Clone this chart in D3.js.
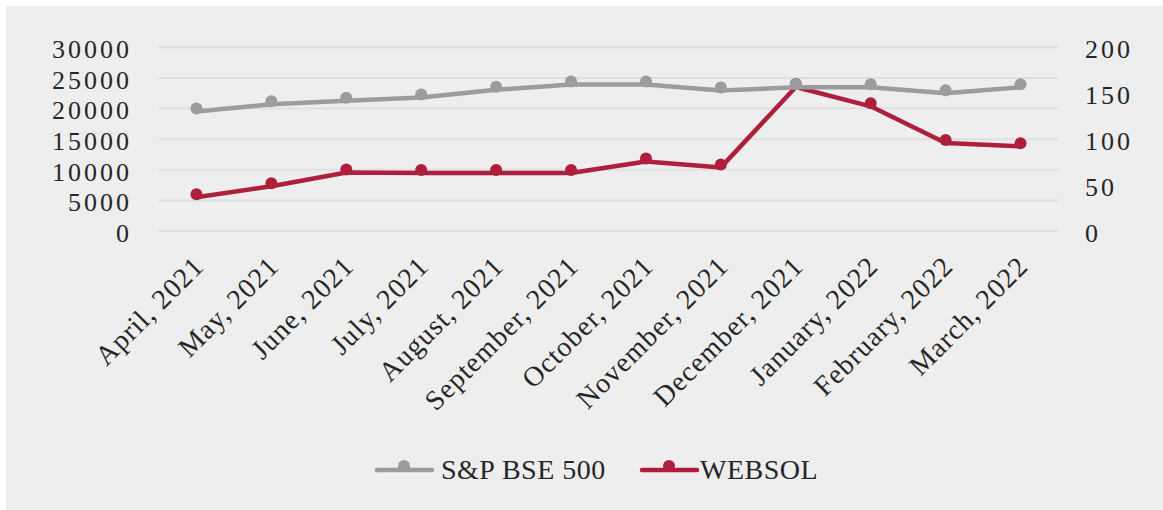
<!DOCTYPE html>
<html>
<head>
<meta charset="utf-8">
<script src="https://cdn.jsdelivr.net/npm/d3@7"></script>
<style>
  body { margin: 0; background: #fff; }
  text { font-family: "Liberation Serif", serif; fill: #262626; }
</style>
</head>
<body>
<script>
// months on the x axis
var months = ["April, 2021", "May, 2021", "June, 2021", "July, 2021", "August, 2021",
              "September, 2021", "October, 2021", "November, 2021", "December, 2021",
              "January, 2022", "February, 2022", "March, 2022"];

// S&P BSE 500 (left axis)
var bse500 = [20000, 21200, 21750, 22300, 23550, 24400, 24400, 23450, 23950, 23950, 23000, 23950];

// WEBSOL (right axis)
var websol = [40, 52, 67, 66.5, 66.5, 66.5, 79, 72.5, 160, 139, 99, 95.5];

var leftTicks = [0, 5000, 10000, 15000, 20000, 25000, 30000];
var rightTicks = [0, 50, 100, 150, 200];

var W = 1163, H = 510;
var svg = d3.select("body").append("svg")
  .attr("width", W)
  .attr("height", H);

// chart background
svg.append("rect")
  .attr("x", 6).attr("y", 6)
  .attr("width", W - 6).attr("height", H - 6)
  .attr("fill", "#eeeeee");

var plotLeft = 159, plotRight = 1058, plotTop = 47.3, plotBottom = 231;

var x = d3.scaleBand().domain(months).range([plotLeft, plotRight]);
var yL = d3.scaleLinear().domain([0, 30000]).range([plotBottom, plotTop]);
var yR = d3.scaleLinear().domain([0, 200]).range([plotBottom, plotTop]);

// gridlines
svg.append("g").selectAll("line")
  .data(leftTicks)
  .enter().append("line")
  .attr("x1", plotLeft).attr("x2", plotRight)
  .attr("y1", function(d) { return yL(d); })
  .attr("y2", function(d) { return yL(d); })
  .attr("stroke", "#dfdfdf")
  .attr("stroke-width", 2);

// left axis labels
var leftAxis = svg.append("g")
  .attr("transform", "translate(" + 132 + ",0)")
  .call(d3.axisLeft(yL).tickValues(leftTicks).tickFormat(d3.format("d")).tickSize(0).tickPadding(0));
leftAxis.select(".domain").remove();
leftAxis.selectAll("text")
  .style("font-size", "26px")
  .style("letter-spacing", "3px")
  .attr("dy", "0.4em");

// right axis labels
var rightAxis = svg.append("g")
  .attr("transform", "translate(" + 1085 + ",0)")
  .call(d3.axisRight(yR).tickValues(rightTicks).tickFormat(d3.format("d")).tickSize(0).tickPadding(0));
rightAxis.select(".domain").remove();
rightAxis.selectAll("text")
  .style("font-size", "26px")
  .style("letter-spacing", "3px")
  .attr("dy", "0.4em");

// x axis labels, rotated
svg.append("g").selectAll("text")
  .data(months)
  .enter().append("text")
  .attr("transform", function(d) {
    return "translate(" + (x(d) + x.bandwidth() / 2 + 9) + ",268) rotate(-45)";
  })
  .attr("text-anchor", "end")
  .style("font-size", "28px")
  .style("letter-spacing", "1px")
  .text(function(d) { return d; });

var series = [
  { name: "WEBSOL", values: websol, scale: yR, color: "#ae1f3c" },
  { name: "S&P BSE 500", values: bse500, scale: yL, color: "#9b9ca0" }
];

series.forEach(function(s) {
  var line = d3.line()
    .x(function(d, i) { return x(months[i]) + x.bandwidth() / 2; })
    .y(function(d) { return s.scale(d); });

  svg.append("path")
    .datum(s.values)
    .attr("d", line)
    .attr("fill", "none")
    .attr("stroke", s.color)
    .attr("stroke-width", 4.5)
    .attr("stroke-linejoin", "round")
    .attr("transform", "translate(0,3)");

  svg.append("g").selectAll("circle")
    .data(s.values)
    .enter().append("circle")
    .attr("cx", function(d, i) { return x(months[i]) + x.bandwidth() / 2; })
    .attr("cy", function(d) { return s.scale(d); })
    .attr("r", 6)
    .attr("fill", s.color);
});

// legend
var legendItems = [
  { name: "S&P BSE 500", color: "#9b9ca0", x: 377 },
  { name: "WEBSOL", color: "#ae1f3c", x: 642 }
];

var legend = svg.append("g").selectAll("g")
  .data(legendItems)
  .enter().append("g")
  .attr("transform", function(d) { return "translate(" + d.x + ",470)"; });

legend.append("line")
  .attr("x1", 0).attr("x2", 55)
  .attr("y1", 0).attr("y2", 0)
  .attr("stroke", function(d) { return d.color; })
  .attr("stroke-width", 4.5)
  .attr("stroke-linecap", "round");

legend.append("circle")
  .attr("cx", 27).attr("cy", -4)
  .attr("r", 6)
  .attr("fill", function(d) { return d.color; });

legend.append("text")
  .attr("x", function(d) { return d.name === "WEBSOL" ? 58 : 64; })
  .attr("y", 9)
  .style("font-size", "28px")
  .style("letter-spacing", "0.5px")
  .text(function(d) { return d.name; });
</script>
</body>
</html>
